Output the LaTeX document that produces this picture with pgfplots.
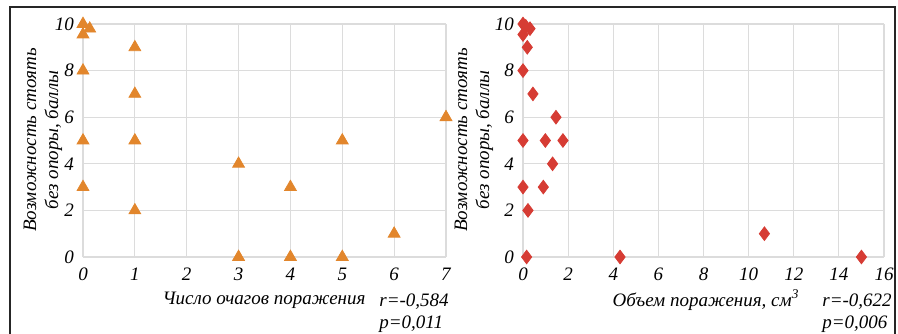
\documentclass[border=0pt]{standalone}
\usepackage{pgfplots}
\pgfplotsset{compat=1.18}
\usepackage{fontspec}
\setmainfont{Liberation Serif}
\definecolor{tri}{RGB}{226,134,44}
\definecolor{dia}{RGB}{214,60,52}
\definecolor{gridc}{RGB}{220,220,220}
\begin{document}
\begin{tikzpicture}
\useasboundingbox (0pt,0pt) rectangle (449pt,166.5pt);
\draw[line width=0.9pt,black!85] (5pt,-1pt) -- (5pt,163pt) -- (447.5pt,163pt) -- (447.5pt,-1pt);
\pgfplotsset{
  myax/.style={
    scale only axis, height=116.5pt,
    ymin=0, ymax=10, ytick={0,2,...,10},
    grid=major, major grid style={gridc, line width=0.6pt},
    axis line style={draw=none}, tick style={draw=none},
    clip=false,
    /pgf/number format/assume math mode=true,
    tick label style={font=\fontsize{9.5}{11}\selectfont\itshape},
    label style={font=\fontsize{9.5}{11}\selectfont\itshape},
    xticklabel style={yshift=-2pt},
    yticklabel style={xshift=-1pt},
  }
}
\begin{axis}[myax, at={(41.5pt,38pt)}, anchor=origin, width=181.5pt,
  xmin=0, xmax=7, xtick={0,...,7}]
\addplot[only marks, mark=triangle*, mark size=3.4pt, color=tri] coordinates {
(0,10) (0.13,9.8) (0,9.55) (0,8) (0,5) (0,3)
(1,9) (1,7) (1,5) (1,2)
(3,4) (3,0) (4,3) (4,0) (5,5) (5,0) (6,1) (7,6)
};
\end{axis}
\begin{axis}[myax, at={(261.5pt,38pt)}, anchor=origin, width=180.5pt,
  xmin=0, xmax=16, xtick={0,2,...,16}]
\addplot[only marks, mark=diamond*, mark size=3.4pt, color=dia] coordinates {
(0,10) (0.12,9.9) (0.31,9.8) (0,9.55) (0.19,9) (0,8) (0.44,7) (1.46,6)
(0,5) (0.99,5) (1.77,5) (1.31,4) (0,3) (0.9,3) (0.22,2) (0.16,0)
(4.3,0) (10.7,1) (15.0,0)
};
\end{axis}
\begin{scope}[font=\fontsize{9.5}{11}\selectfont\itshape]
\node[rotate=90, align=center] at (21.5pt,96.5pt) {Возможность стоять\\без опоры, баллы};
\node[rotate=90, align=center] at (237pt,96.5pt) {Возможность стоять\\без опоры, баллы};
\node at (132pt,16.5pt) {Число очагов поражения};
\node at (353pt,16.5pt) {Объем поражения, см\textsuperscript{3}};
\node[align=left, anchor=north west, inner sep=0pt] at (189.5pt,20pt) {r=-0,584\\p=0,011};
\node[align=left, anchor=north west, inner sep=0pt] at (411pt,20pt) {r=-0,622\\p=0,006};
\end{scope}
\end{tikzpicture}
\end{document}
